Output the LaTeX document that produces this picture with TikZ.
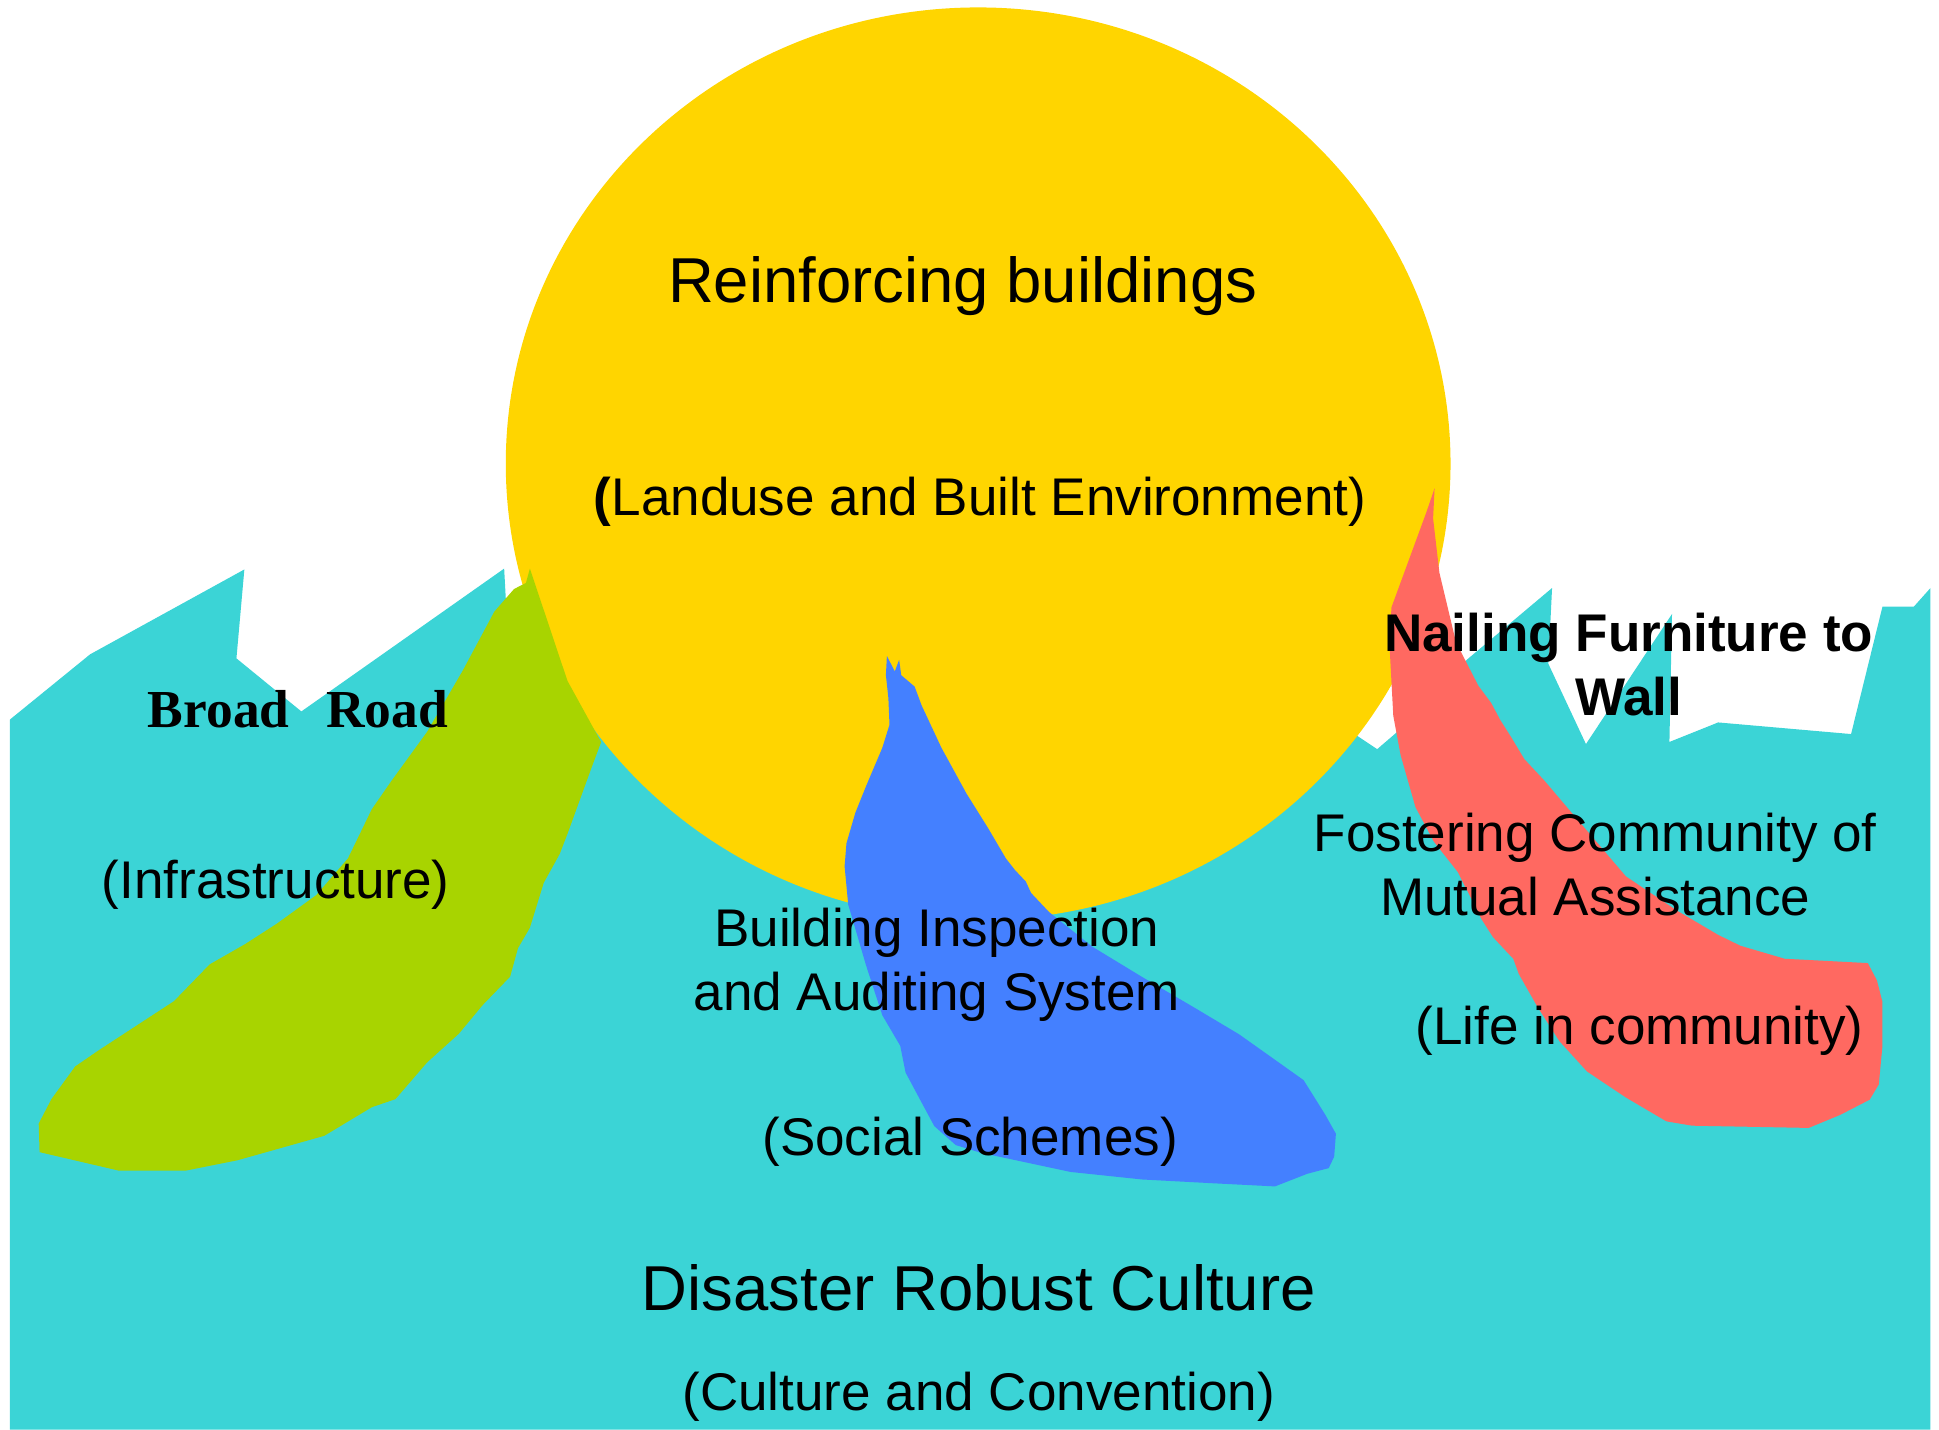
\documentclass[tikz,border=0pt]{standalone}
\usepackage{fontspec}
\setmainfont{Liberation Sans}
\newfontfamily\timesfont{Liberation Serif}
\definecolor{culture}{RGB}{59,212,214}
\definecolor{landuse}{RGB}{255,213,0}
\definecolor{infra}{RGB}{168,212,0}
\definecolor{social}{RGB}{68,128,255}
\definecolor{life}{RGB}{255,105,97}
\tikzset{
  lbl/.style={font=\fontsize{12.2}{14.7}\selectfont, align=center, inner sep=0pt, anchor=base},
  big/.style={font=\fontsize{14.6}{17.5}\selectfont, inner sep=0pt, anchor=base}
}
\begin{document}
\begin{tikzpicture}[x=0.1mm, y=-0.1mm]
\useasboundingbox (0,0) rectangle (1568,1156);

\fill[culture] (8,1156) -- (8,581.9) -- (72.9,529.1) -- (197.6,460.5) -- (191.2,532.4) -- (243.7,575.3) -- (407.7,459.8) -- (409.3,489.5) -- (440,500) -- (1090,590) -- (1113.7,605.8) -- (1128,593.5) -- (1186.4,533.3) -- (1255.1,475.5) -- (1252.1,536.8) -- (1282.5,601.7) -- (1352.1,496.5) -- (1350,600) -- (1389.4,584.2) -- (1496.9,593.6) -- (1522.3,490.5) -- (1547.7,490.5) -- (1561.1,475.5) -- (1561.1,1156) -- cycle;

\fill[landuse] (791,375) ellipse [x radius=38.2mm, y radius=36.9mm];

\fill[infra] (428.5,459.8) -- (458.9,550.6) -- (486.1,600.1) -- (478.1,621.5) -- (458.9,674.3) -- (452.5,690.8) -- (439.7,713.9) -- (428.5,750.2) -- (418.9,766.7) -- (412.5,789.8) -- (390.2,812.9) -- (371,836) -- (345.4,859.1) -- (319.8,888.8) -- (300.6,895.4) -- (262.2,918.5) -- (191.9,938.3) -- (150.3,946.6) -- (95.9,946.6) -- (32,931.7) -- (31.3,908.6) -- (41.6,888.8) -- (60.8,862.4) -- (80,849.2) -- (140.7,809.6) -- (169.5,779.9) -- (198.3,763.4) -- (223.9,746.9) -- (255.8,723.8) -- (281.4,694.1) -- (300.6,654.5) -- (316.6,631.4) -- (345.4,591.8) -- (374.2,542.3) -- (399.8,494.5) -- (415.7,476.3) -- (425.3,471.4) -- cycle;

\fill[social] (717.2,530.5) -- (723.6,542.9) -- (727.1,533.6) -- (728.8,546) -- (739.6,555.2) -- (745.4,570.7) -- (761.3,604.7) -- (781.6,641.8) -- (799,669.6) -- (813.5,694.3) -- (820.8,703.6) -- (829.5,712.8) -- (833.8,722.1) -- (848.3,737.5) -- (883.1,765.4) -- (923.7,790.1) -- (965.8,814.8) -- (1002,836.4) -- (1036.8,861.1) -- (1054.2,873.5) -- (1071.6,901.3) -- (1080.3,916.8) -- (1078.9,935.3) -- (1074.5,944.6) -- (1057.1,949.2) -- (1031,959.4) -- (981.7,956.9) -- (923.7,953.8) -- (865.7,947.7) -- (822.2,938.4) -- (793.2,932.2) -- (772.9,926) -- (755.5,910.6) -- (743.9,889) -- (732.3,867.3) -- (728,845.7) -- (713.5,821) -- (700.4,780.8) -- (685.9,731.4) -- (683,700.5) -- (684.5,681.9) -- (691.7,657.2) -- (700.4,635.6) -- (713.5,604.7) -- (719.3,586.1) -- (718.4,564.5) -- (716.4,546) -- cycle;

\fill[life] (1160.1,394.8) -- (1158.9,419.3) -- (1164,463.2) -- (1177.4,519.3) -- (1195.4,554.4) -- (1205.8,568.4) -- (1213.3,582.4) -- (1222.2,596.4) -- (1232.7,613.9) -- (1249.1,631.5) -- (1267,652.6) -- (1314.8,708.7) -- (1356.6,736.7) -- (1389.4,756) -- (1407.4,764.8) -- (1443.2,775.3) -- (1510.4,778.8) -- (1517.8,792.8) -- (1522.3,810.4) -- (1522.3,845.4) -- (1519.3,877) -- (1511.9,889.3) -- (1488,901.6) -- (1462.6,912.1) -- (1368.5,910.3) -- (1347.6,906.8) -- (1314.8,887.5) -- (1283.4,866.5) -- (1261,841.9) -- (1243.1,813.9) -- (1228.2,787.6) -- (1223.7,775.3) -- (1207.3,757.8) -- (1198.3,743.7) -- (1178.9,705.2) -- (1159.5,680.6) -- (1144.6,652.6) -- (1132.6,610.5) -- (1126.7,578.9) -- (1123.7,522.8) -- (1125.2,491.2) -- (1153.5,414.1) -- cycle;

\node[big] (R) at (778.5,244.8) {Reinforcing buildings};
\node[lbl] (L) at (792.5,417) {\textbf{(}Landuse and Built Environment)};
\node[lbl, font=\fontsize{12.3}{14.7}\selectfont\timesfont\bfseries] (B) at (241,588) {Broad\hspace{8.5pt}Road};
\node[lbl] (I) at (223,726.5) {(Infrastructure)};
\node[lbl] (A) at (757.5,817) {Building Inspection\\and Auditing System};
\node[lbl] (S) at (784.5,934) {(Social Schemes)};
\node[lbl, font=\fontsize{12.2}{14.7}\selectfont\bfseries] (N) at (1317,578.2) {Nailing Furniture to\\Wall};
\node[lbl] (F) at (1290,740.2) {Fostering Community of\\Mutual Assistance};
\node[lbl] (C) at (1326,844.5) {(Life in community)};
\node[big] (D) at (791.5,1059.6) {Disaster Robust Culture};
\node[lbl] (K) at (791.5,1140.6) {(Culture and Convention)};
\end{tikzpicture}
\end{document}
